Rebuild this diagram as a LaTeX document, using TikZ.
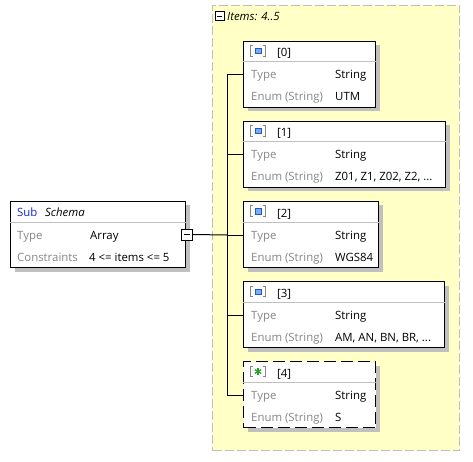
\documentclass[tikz,border=0pt]{standalone}
\usepackage{fontspec}
\setmainfont{Open Sans}
\usetikzlibrary{shadows,calc}
\definecolor{shadowgray}{RGB}{192,192,192}
\definecolor{sepgray}{RGB}{192,192,192}
\definecolor{dashgray}{RGB}{190,190,190}
\definecolor{yellowbg}{RGB}{255,255,198}
\definecolor{lblgray}{RGB}{135,135,135}
\definecolor{subblue}{RGB}{20,40,210}
\definecolor{icondark}{RGB}{30,90,200}
\definecolor{iconfill}{RGB}{120,175,240}
\definecolor{icongreen}{RGB}{40,160,40}
\tikzset{
  container/.style={draw=dashgray, fill=yellowbg, line width=1pt, dash pattern=on 9pt off 3pt, inner sep=0pt, minimum width=247pt, minimum height=445pt},
  itembox/.style={draw=black, fill=white, line width=1pt, inner sep=0pt, minimum height=66pt,
     drop shadow={shadow xshift=4pt, shadow yshift=-4pt, fill=shadowgray, opacity=1}},
  optbox/.style={dash pattern=on 12pt off 5pt},
  expbox/.style={draw=black, fill=white, line width=1pt, inner sep=0pt, minimum size=10pt},
  sepline/.style={draw=sepgray, line width=1pt},
  conn/.style={draw=black, line width=1pt},
  lbl/.style={anchor=base west, inner sep=0pt, text=lblgray},
  val/.style={anchor=base west, inner sep=0pt, text=black},
}
\newcommand\ItemBox[6]{%
  \node[itembox,#6, minimum width=#4, anchor=north west] (#1) at (#2,#3) {};
  \draw[sepline] ($(#1.north west)+(0,21)$) -- ($(#1.north east)+(0,21)$);
  \node[val] (#1-idx) at ($(#1.north west)+(34,16)$) {[#5]};
  \node[lbl] (#1-tl) at ($(#1.north west)+(8,38)$) {Type};
  \node[val] (#1-tv) at ($(#1.north west)+(92,38)$) {String};
  \node[lbl] (#1-el) at ($(#1.north west)+(8,60)$) {Enum (String)};
}
\newcommand\Brackets[1]{%
  \draw[draw=lblgray, line width=1pt] ($(#1.north west)+(10,5)$) -- ($(#1.north west)+(7.5,5)$) -- ($(#1.north west)+(7.5,15.5)$) -- ($(#1.north west)+(10,15.5)$);
  \draw[draw=lblgray, line width=1pt] ($(#1.north west)+(19.5,5)$) -- ($(#1.north west)+(22,5)$) -- ($(#1.north west)+(22,15.5)$) -- ($(#1.north west)+(19.5,15.5)$);
}
\newcommand\BlueIcon[1]{%
  \Brackets{#1}
  \draw[draw=icondark, fill=iconfill, line width=1pt] ($(#1.north west)+(12,8)$) rectangle ($(#1.north west)+(18,13)$);
}
\begin{document}
\begin{tikzpicture}[x=1pt, y=-1pt, font=\fontsize{11.4}{13}\selectfont]
\useasboundingbox (0,0) rectangle (473,462);
\fill[white] (0,0) rectangle (473,462);

% container
\node[container, anchor=north west] (items) at (212,5) {};
\node[expbox, minimum size=9pt] (itemsexp) at (219.5,16.5) {};
\draw[line width=1pt] ($(itemsexp.center)+(-2.5,0)$) -- ($(itemsexp.center)+(2.5,0)$);
\node[val, font=\fontsize{11.4}{13}\selectfont\itshape] (itemslbl) at (227,21) {Items: 4..5};

% connectors
\coordinate (bus) at (227,0);
\coordinate (p0) at (243,75);
\coordinate (p1) at (243,155);
\coordinate (p2) at (243,235);
\coordinate (p3) at (243,315);
\coordinate (p4) at (243,395);
\coordinate (b0) at (bus |- p0);
\coordinate (b4) at (bus |- p4);
\draw[conn] (b0) -- (b4);
\foreach \i in {0,...,4} {\draw[conn] (bus |- p\i) -- (p\i);}

% Sub schema box
\node[itembox, minimum width=175pt, anchor=north west] (sub) at (10,201) {};
\draw[sepline] ($(sub.north west)+(0,21)$) -- ($(sub.north east)+(0,21)$);
\node[val, text=subblue] (sublbl) at ($(sub.north west)+(7,15)$) {Sub};
\node[val, font=\fontsize{11.4}{13}\selectfont\itshape] (subname) at ($(sub.north west)+(35,15)$) {Schema};
\node[lbl] (subtl) at ($(sub.north west)+(7,38)$) {Type};
\node[val] (subtv) at ($(sub.north west)+(80,38)$) {Array};
\node[lbl] (subcl) at ($(sub.north west)+(7,60)$) {Constraints};
\node[val] (subcv) at ($(sub.north west)+(79,60)$) {4 <= items <= 5};
\node[expbox, minimum size=11pt] (subexp) at (186.5,234.5) {};
\draw[line width=1pt] ($(subexp.center)+(-3,0)$) -- ($(subexp.center)+(3,0)$);
\draw[conn] (subexp.east) -- (bus |- p2);

% items
\ItemBox{i0}{243}{41}{132}{0}{}
\BlueIcon{i0}
\node[val] (i0-ev) at ($(i0.north west)+(92,60)$) {UTM};

\ItemBox{i1}{243}{121}{202}{1}{}
\BlueIcon{i1}
\node[val] (i1-ev) at ($(i1.north west)+(92,60)$) {Z01, Z1, Z02, Z2, ...};

\ItemBox{i2}{243}{201}{135}{2}{}
\BlueIcon{i2}
\node[val] (i2-ev) at ($(i2.north west)+(92,60)$) {WGS84};

\ItemBox{i3}{243}{281}{201}{3}{}
\BlueIcon{i3}
\node[val] (i3-ev) at ($(i3.north west)+(92,60)$) {AM, AN, BN, BR, ...};

\ItemBox{i4}{243}{361}{132}{4}{optbox}
\Brackets{i4}
\coordinate (i4-star) at ($(i4.north west)+(15,10.5)$);
\draw[icongreen, line width=1.4pt] ($(i4-star)+(0,-3.5)$) -- ($(i4-star)+(0,3.5)$);
\draw[icongreen, line width=1.4pt] ($(i4-star)+(-3.1,-1.8)$) -- ($(i4-star)+(3.1,1.8)$);
\draw[icongreen, line width=1.4pt] ($(i4-star)+(-3.1,1.8)$) -- ($(i4-star)+(3.1,-1.8)$);
\node[val] (i4-ev) at ($(i4.north west)+(92,60)$) {S};
\end{tikzpicture}
\end{document}
